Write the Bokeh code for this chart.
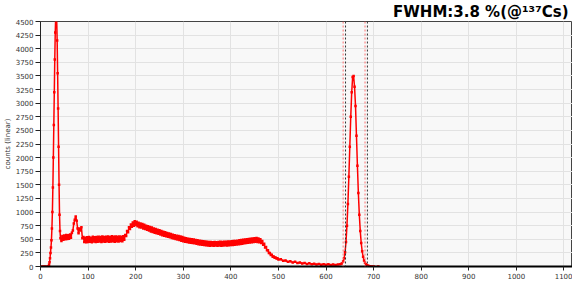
from bokeh.plotting import figure
from bokeh.models import Span, Title, FixedTicker, Range1d
from bokeh.embed import file_html
from bokeh.resources import INLINE

# ---- data ----
lead_ch = [0, 5, 10, 15]
lead_counts = [0, 0, 0, 0]

peak1_ch = list(range(17, 43))
peak1_counts = [0, 30, 80, 150, 250, 350, 480, 700, 1000, 1450,
                2000, 2600, 3200, 3800, 4300, 4600, 4700, 4550, 4150, 3550,
                2900, 2200, 1500, 950, 650, 520]

cont_ch = list(range(44, 502, 2))
cont_counts = [470, 560, 490, 570, 500, 580, 505, 575, 510, 590,
               530, 620, 660, 790, 860, 920, 840, 700, 610, 700,
               660, 720, 520, 540, 450, 530, 445, 535, 450, 540,
               455, 530, 445, 545, 460, 535, 450, 540, 455, 545,
               460, 540, 450, 550, 460, 540, 455, 545, 465, 550,
               455, 540, 460, 555, 465, 545, 455, 550, 465, 545,
               460, 550, 470, 545, 465, 555, 490, 580, 560, 650,
               630, 720, 690, 770, 730, 810, 750, 830, 760, 820,
               740, 805, 720, 790, 715, 780, 700, 765, 690, 750,
               675, 740, 660, 725, 645, 715, 635, 700, 620, 690,
               610, 675, 600, 665, 590, 650, 575, 640, 565, 630,
               555, 615, 545, 605, 535, 595, 525, 585, 515, 575,
               505, 565, 495, 560, 485, 550, 475, 540, 465, 530,
               455, 520, 450, 510, 440, 505, 435, 500, 430, 495,
               425, 485, 420, 480, 410, 475, 405, 470, 400, 465,
               395, 460, 390, 455, 385, 450, 380, 450, 385, 445,
               380, 450, 385, 445, 380, 450, 385, 455, 380, 450,
               385, 455, 390, 455, 385, 460, 390, 460, 395, 465,
               395, 470, 400, 470, 405, 475, 410, 480, 415, 485,
               420, 490, 425, 495, 430, 500, 435, 505, 440, 510,
               445, 515, 450, 520, 455, 525, 450, 515, 445, 500,
               430, 470, 400, 420, 350, 360, 300, 300, 250, 250,
               210, 215, 180, 185, 160, 165, 145, 150, 130]

tail_ch = list(range(505, 635, 5))
tail_counts = [135, 105, 110, 85, 95, 75, 85, 65, 75, 55,
               65, 48, 58, 42, 52, 38, 48, 33, 43, 30,
               40, 28, 38, 27, 36, 40]

peak2_ch = [633, 636, 638, 640, 642, 644, 646, 648, 650, 652, 654, 656, 658, 660, 662,
            664, 666, 668, 670, 672, 674, 676, 678, 680, 682, 684, 686, 688, 690, 693, 696, 700, 710]
peak2_counts = [55, 90, 150, 260, 450, 750, 1150, 1650, 2200, 2750, 3200, 3480, 3500, 3300, 2950,
                2400, 1850, 1350, 950, 650, 430, 280, 180, 110, 70, 40, 25, 15, 8, 3, 0, 0, 0]

channels = lead_ch + peak1_ch + cont_ch + tail_ch + peak2_ch
counts = lead_counts + peak1_counts + cont_counts + tail_counts + peak2_counts

x_ticks = list(range(0, 1200, 100))
y_ticks = list(range(0, 4750, 250))
roi_red = [636, 682]
roi_black = [641, 687]
title_text = "FWHM:3.8 %(@\u00b9\u00b3\u2077Cs)"

p = figure(width=572, height=281, output_backend="svg", toolbar_location=None,
           x_range=Range1d(0, 1118), y_range=Range1d(0, 4500),
           min_border_left=0, min_border_right=0, min_border_top=0, min_border_bottom=0)

p.add_layout(Title(text=title_text, align="right", text_font_size="15px",
                   text_font_style="bold", text_font="DejaVu Sans", text_color="black",
                   standoff=1, offset=4), "above")

p.background_fill_color = "#f8f8f8"
p.border_fill_color = "white"
p.outline_line_color = "#444444"
p.xgrid.grid_line_color = "#e2e2e2"
p.ygrid.grid_line_color = "#e2e2e2"

p.xaxis.ticker = FixedTicker(ticks=x_ticks)
p.yaxis.ticker = FixedTicker(ticks=y_ticks)
for ax in (p.xaxis, p.yaxis):
    ax.major_label_text_font_size = "7px"
    ax.major_label_text_font = "DejaVu Sans"
    ax.major_label_text_color = "#333333"
    ax.minor_tick_line_color = None
    ax.major_tick_in = 0
    ax.major_tick_line_color = "#222222"
p.yaxis.major_tick_out = 5
p.yaxis.major_label_standoff = 2
p.xaxis.major_tick_out = 4
p.xaxis.major_label_standoff = 2
p.xaxis.axis_label = None
p.xaxis.axis_label_standoff = 0
p.xaxis.axis_line_width = 2
p.xaxis.axis_line_color = "black"
p.yaxis.axis_line_color = "#222222"
p.yaxis.axis_label = "counts (linear)"
p.yaxis.axis_label_text_font_size = "7px"
p.yaxis.axis_label_text_font_style = "normal"
p.yaxis.axis_label_text_font = "DejaVu Sans"
p.yaxis.axis_label_text_color = "#333333"
p.yaxis.axis_label_standoff = 1

for loc in roi_red:
    p.add_layout(Span(location=loc, dimension="height", line_color="#ff7070",
                      line_dash="2 2", line_width=1))
for loc in roi_black:
    p.add_layout(Span(location=loc, dimension="height", line_color="#333333",
                      line_dash="2 2", line_width=1))

p.line(channels, counts, line_color="red", line_width=1.5)
p.scatter(channels, counts, marker="square", size=2.5, fill_color="red", line_color=None)

open("out.html", "w").write(file_html(p, INLINE))
